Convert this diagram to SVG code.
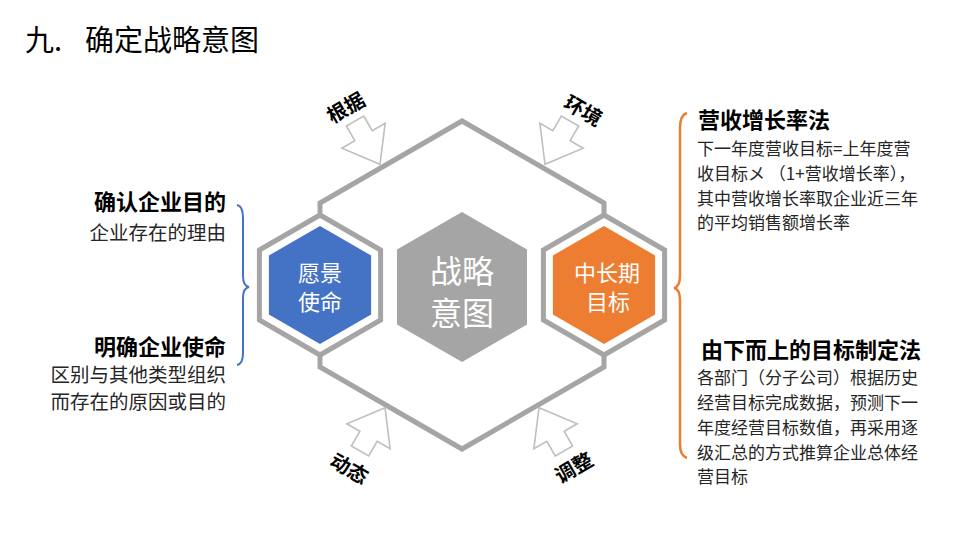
<svg xmlns="http://www.w3.org/2000/svg" width="960" height="540" viewBox="0 0 960 540">
<defs>
<style>
text{font-family:"Noto Sans CJK SC","Microsoft YaHei",sans-serif;}
.frame{fill:none;stroke:#a5a5a5;stroke-width:5;stroke-linejoin:miter;}
.arrow{fill:#ffffff;stroke:#bfbfbf;stroke-width:1.6;stroke-linejoin:miter;}
.alabel{font-size:20px;font-weight:bold;fill:#000;text-anchor:middle;}
.hexText{fill:#ffffff;text-anchor:middle;}
.head{font-size:22px;font-weight:bold;fill:#000;}
.bodyL{font-size:19.5px;fill:#262626;text-anchor:end;}
.bodyR{font-size:17px;fill:#262626;}
</style>
<path id="arr" d="M0,-10 L17,-10 L17,-25 L50,0 L17,25 L17,10 L0,10 Z"/>
</defs>
<rect width="960" height="540" fill="#ffffff"/>

<g id="title">
<text x="25" y="51" font-size="29" fill="#000">九.</text>
<text x="85" y="51" font-size="29" fill="#000">确定战略意图</text>
</g>

<g id="frame">
<path class="frame" d="M320,215 L320,203 L462,121 L604,203 L604,215"/>
<path class="frame" d="M320,355 L320,367 L462,449 L604,367 L604,355"/>
<polygon class="frame" points="320,215 380.6,250 380.6,320 320,355 259.4,320 259.4,250"/>
<polygon class="frame" points="604,215 664.6,250 664.6,320 604,355 543.4,320 543.4,250"/>
</g>

<g id="connectors">
<use href="#arr" class="arrow" transform="translate(355,121) rotate(60)"/>
<use href="#arr" class="arrow" transform="translate(570,121) rotate(120)"/>
<use href="#arr" class="arrow" transform="translate(360,451) rotate(-60)"/>
<use href="#arr" class="arrow" transform="translate(564,451) rotate(-120)"/>
<path d="M237,205 Q243,206 243,218 L243,276 Q243,286 249,287 Q243,288 243,298 L243,353 Q243,364 237,365" fill="none" stroke="#4472c4" stroke-width="2"/>
<path d="M687,113 Q680,115 680,128 L680,275 Q680,287 674,288 Q680,289 680,301 L680,444 Q680,456 687,458" fill="none" stroke="#ed7d31" stroke-width="2.5"/>
</g>

<g id="label-genju"><text class="alabel" transform="translate(346,108) rotate(-30)" y="7">根据</text></g>
<g id="label-huanjing"><text class="alabel" transform="translate(583,111) rotate(30)" y="7">环境</text></g>
<g id="label-dongtai"><text class="alabel" transform="translate(349,469) rotate(30)" y="7">动态</text></g>
<g id="label-tiaozheng"><text class="alabel" transform="translate(574,468) rotate(-30)" y="7">调整</text></g>

<g id="node-vision">
<polygon fill="#4472c4" points="320,226 371.1,255.5 371.1,314.5 320,344 268.9,314.5 268.9,255.5"/>
<text class="hexText" x="320" y="281" font-size="22">愿景</text>
<text class="hexText" x="320" y="310" font-size="22">使命</text>
</g>

<g id="node-intent">
<polygon fill="#a5a5a5" points="462,212 527,249.5 527,324.5 462,362 397,324.5 397,249.5"/>
<text class="hexText" x="462" y="283" font-size="32">战略</text>
<text class="hexText" x="462" y="325" font-size="32">意图</text>
</g>

<g id="node-goal">
<polygon fill="#ed7d31" points="604,226 655.1,255.5 655.1,314.5 604,344 552.9,314.5 552.9,255.5"/>
<text class="hexText" x="607" y="281" font-size="22">中长期</text>
<text class="hexText" x="608" y="310" font-size="22">目标</text>
</g>

<g id="left-text">
<text class="head" x="226" y="210" text-anchor="end">确认企业目的</text>
<text class="bodyL" x="226" y="240">企业存在的理由</text>
<text class="head" x="226" y="355" text-anchor="end">明确企业使命</text>
<text class="bodyL" x="226" y="382">区别与其他类型组织</text>
<text class="bodyL" x="226" y="409">而存在的原因或目的</text>
</g>

<g id="right-top-text">
<text class="head" x="698" y="128">营收增长率法</text>
<text class="bodyR" x="697" y="155">下一年度营收目标=上年度营</text>
<text class="bodyR" x="697" y="180">收目标メ （1+营收增长率），</text>
<text class="bodyR" x="697" y="205">其中营收增长率取企业近三年</text>
<text class="bodyR" x="697" y="229">的平均销售额增长率</text>
</g>

<g id="right-bottom-text">
<text class="head" x="701" y="358">由下而上的目标制定法</text>
<text class="bodyR" x="697" y="384">各部门（分子公司）根据历史</text>
<text class="bodyR" x="697" y="409">经营目标完成数据，预测下一</text>
<text class="bodyR" x="697" y="434">年度经营目标数值，再采用逐</text>
<text class="bodyR" x="697" y="459">级汇总的方式推算企业总体经</text>
<text class="bodyR" x="697" y="483">营目标</text>
</g>
</svg>
